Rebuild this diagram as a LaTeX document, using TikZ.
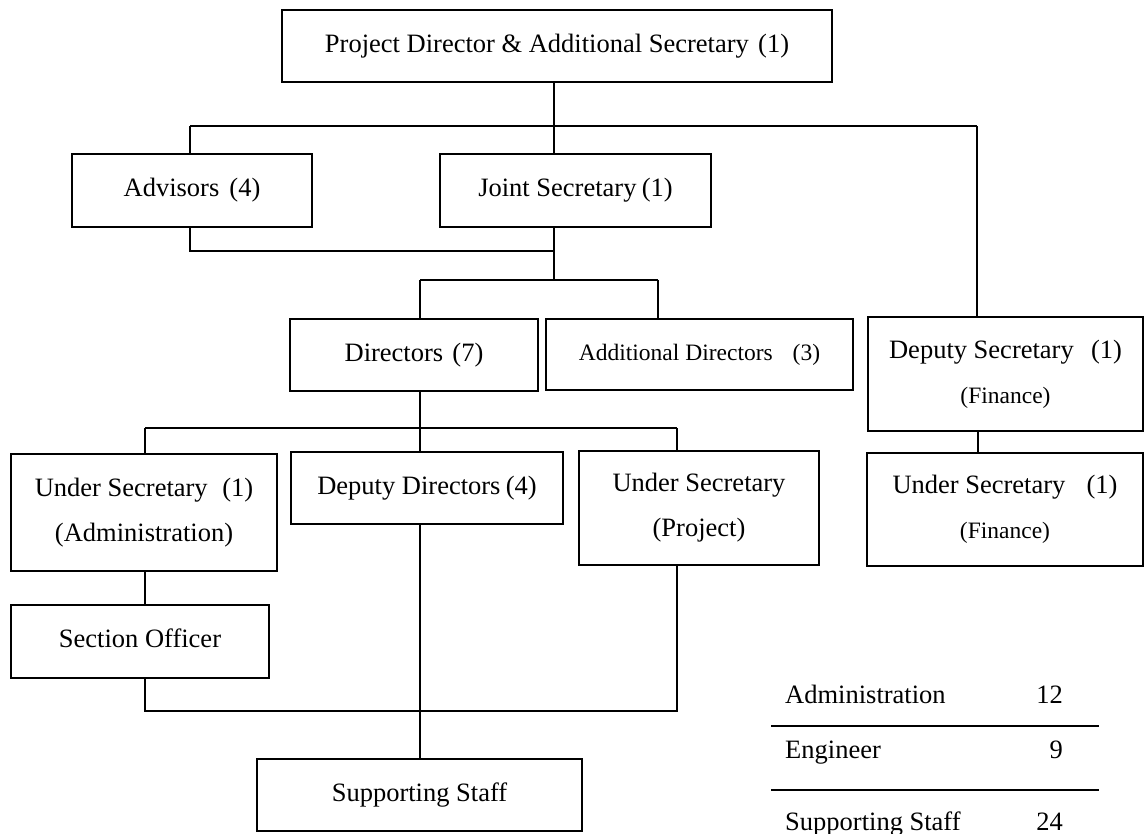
\documentclass[tikz,border=0pt]{standalone}
\usepackage{fontspec}
\setmainfont{Liberation Serif}
\begin{document}
\begin{tikzpicture}[x=1pt,y=-1pt,
  box/.style={draw, line width=1.6pt, rectangle, inner sep=0pt,
    align=center, font=\fontsize{26.5}{45}\selectfont},
  oneline/.style={text height=18.5pt, text depth=5.8pt},
  link/.style={line width=1.3pt},
  tabtxt/.style={inner sep=0pt, font=\fontsize{26.5}{30}\selectfont},
  rule/.style={line width=2.4pt}]
\useasboundingbox (0,0) rectangle (1146,834);

% boxes of the chart
\node[box, oneline, minimum width=550, minimum height=72] (top) at (557,46)
  {Project Director \& Additional Secretary\hspace{.35em}(1)};
\node[box, oneline, minimum width=240, minimum height=73] (adv) at (192,190.5)
  {Advisors\hspace{.38em}(4)};
\node[box, oneline, minimum width=271, minimum height=73] (joint) at (575.5,190.5)
  {Joint Secretary\hspace{.2em}(1)};
\node[box, oneline, minimum width=248, minimum height=72] (dir) at (414,355)
  {Directors\hspace{.35em}(7)};
\node[box, oneline, minimum width=307, minimum height=71,
  font=\fontsize{23.5}{45}\selectfont] (adir) at (699.5,354.5)
  {Additional Directors\hspace{.85em}(3)};
\node[box, minimum width=275, minimum height=114] (dsec) at (1005.5,374)
  {Deputy Secretary\hspace{.65em}(1)\\{\fontsize{23.5}{45}\selectfont(Finance)}};
\node[box, minimum width=276, minimum height=113] (usf) at (1005,509.5)
  {Under Secretary\hspace{.8em}(1)\\{\fontsize{23.5}{45}\selectfont(Finance)}};
\node[box, minimum width=266, minimum height=117] (usa) at (144,512.5)
  {Under Secretary\hspace{.55em}(1)\\(Administration)};
\node[box, oneline, minimum width=272, minimum height=72] (dd) at (427,488)
  {Deputy Directors\hspace{.2em}(4)};
\node[box, minimum width=240, minimum height=114] (usp) at (699,508)
  {Under Secretary\\(Project)};
\node[box, oneline, minimum width=258, minimum height=73] (so) at (140,641.5)
  {Section Officer};
\node[box, oneline, minimum width=325, minimum height=72] (ss) at (419.5,795)
  {Supporting Staff};

% junction points of the connector buses
\coordinate (b1L) at (190,126);
\coordinate (b1M) at (554,126);
\coordinate (b1R) at (977,126);
\coordinate (j2) at (554,251);
\coordinate (b2M) at (554,280);
\coordinate (b2L) at (420,280);
\coordinate (b2R) at (658,280);
\coordinate (fin) at (978,442);
\coordinate (b3L) at (145,428);
\coordinate (b3M) at (420,428);
\coordinate (b3R) at (677,428);
\coordinate (b4L) at (145,711);
\coordinate (b4R) at (677,711);

% connectors
\draw[link] (top.south -| b1M) -- (b1M);
\draw[link] (b1L) -- (b1R);
\draw[link] (b1L) -- (adv.north -| b1L);
\draw[link] (b1M) -- (joint.north -| b1M);
\draw[link] (b1R) -- (dsec.north -| b1R);
\draw[link] (adv.south -| b1L) |- (j2);
\draw[link] (joint.south -| b1M) -- (b2M);
\draw[link] (b2L) -- (b2R);
\draw[link] (b2L) -- (dir.north -| b2L);
\draw[link] (b2R) -- (adir.north -| b2R);
\draw[link] (dsec.south -| fin) -- (usf.north -| fin);
\draw[link] (dir.south -| b3M) -- (b3M);
\draw[link] (b3L) -- (b3R);
\draw[link] (b3L) -- (usa.north -| b3L);
\draw[link] (b3M) -- (dd.north -| b3M);
\draw[link] (b3R) -- (usp.north -| b3R);
\draw[link] (usa.south -| b3L) -- (so.north -| b3L);
\draw[link] (so.south -| b4L) -- (b4L) -- (b4R) -- (usp.south -| b4R);
\draw[link] (dd.south -| b3M) -- (ss.north -| b3M);

% staff summary table
\node[tabtxt, anchor=base west] (t1) at (785,703) {Administration};
\node[tabtxt, anchor=base east] (n1) at (1063,703) {12};
\node[tabtxt, anchor=base west] (t2) at (785,758) {Engineer};
\node[tabtxt, anchor=base east] (n2) at (1063,758) {9};
\node[tabtxt, anchor=base west] (t3) at (785,830) {Supporting Staff};
\node[tabtxt, anchor=base east] (n3) at (1063,830) {24};
\coordinate (r1a) at (771,726);
\coordinate (r1b) at (1099,726);
\coordinate (r2a) at (771,790);
\coordinate (r2b) at (1099,790);
\draw[rule] (r1a) -- (r1b);
\draw[rule] (r2a) -- (r2b);
\end{tikzpicture}
\end{document}
